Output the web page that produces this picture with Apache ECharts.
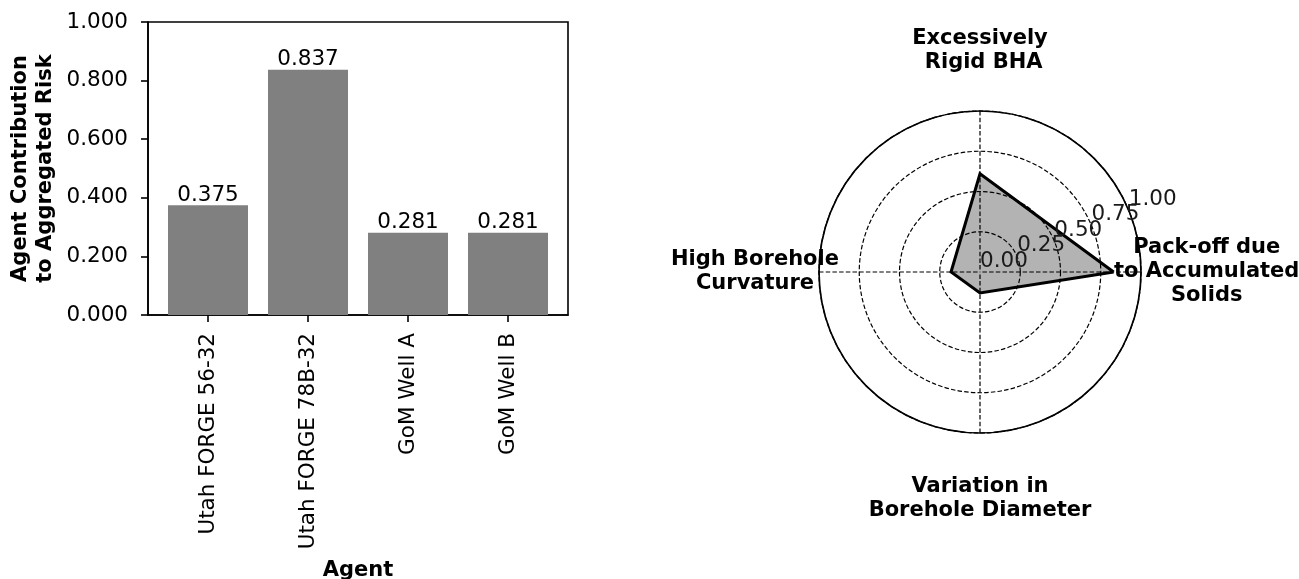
<!DOCTYPE html>
<html>
<head>
<meta charset="utf-8">
<script src="https://cdn.jsdelivr.net/npm/echarts@6/dist/echarts.min.js"></script>
<style>
  html, body { margin: 0; padding: 0; background: #ffffff; }
  #chart { width: 1299px; height: 579px; }
</style>
</head>
<body>
<div id="chart"></div>
<script>
// Bar panel: each agent's share of the aggregated risk
const agents = ['Utah FORGE 56-32', 'Utah FORGE 78B-32', 'GoM Well A', 'GoM Well B'];
const contributions = [0.375, 0.837, 0.281, 0.281];
const contributionTicks = [0, 0.2, 0.4, 0.6, 0.8, 1.0];

// Polar panel: risk factor scores, counter-clockwise from the east
const riskFactors = [
  'Pack-off due\nto Accumulated\nSolids',
  'Excessively\n Rigid BHA',
  'High Borehole\nCurvature',
  'Variation in\nBorehole Diameter'
];
const riskScores = [0.83, 0.61, 0.18, 0.13];
const radialTicks = [0, 0.25, 0.5, 0.75, 1.0];

const FONT = 'DejaVu Sans';
const BLACK = '#000000';
const DASH = [4.5, 2.2];
const TICK_FONT = 21.5;
const BOLD_FONT = 21;

const agentPositions = agents.map((_, i) => i);
const barData = contributions.map((v, i) => [i, v]);

// one factor every quarter turn; the first point is repeated to close the outline
const factorStep = 360 / riskFactors.length;
const scoreLoop = riskScores.map((v, i) => [v, i * factorStep]).concat([[riskScores[0], 360]]);

// radial tick labels split in two alternating sets so none of them collide
const radialLabelsA = radialTicks.filter((_, i) => i % 2 === 0);
const radialLabelsB = radialTicks.filter((_, i) => i % 2 === 1);

const centerPolar = [980, 272];
const polarRadius = 161;

// factor names: each line centred; extra spacer line keeps top/bottom names off the ring
function factorLabel(angle) {
  const i = Math.round(angle / factorStep);
  if (i >= riskFactors.length) return '';
  const style = i === 2 ? 'w' : 'c';
  const lines = riskFactors[i].split('\n').map(s => '{' + style + '|' + s + '}');
  if (i === 1) lines.push('{gt| }');
  if (i === 3) lines.unshift('{gb| }');
  return lines.join('\n');
}

const nameStyle = { align: 'center', fontWeight: 'bold', fontSize: BOLD_FONT, lineHeight: 24, color: BLACK, fontFamily: FONT };

function radialLabelAxis(polarIndex, values) {
  return {
    polarIndex: polarIndex,
    type: 'value',
    min: radialTicks[0], max: radialTicks[radialTicks.length - 1], interval: 0.25,
    z: 5,
    axisLine: { show: false },
    axisTick: { show: false },
    splitLine: { show: false },
    axisLabel: {
      show: true, customValues: values, showMinLabel: true, showMaxLabel: true,
      formatter: v => v.toFixed(2),
      align: 'left', verticalAlign: 'bottom', margin: 0,
      fontSize: TICK_FONT, color: '#1a1a1a', fontFamily: FONT
    }
  };
}

const chart = echarts.init(document.getElementById('chart'), null, { renderer: 'canvas' });

chart.setOption({
  backgroundColor: '#ffffff',
  animation: false,
  textStyle: { fontFamily: FONT },
  grid: {
    left: 148, top: 22, width: 420, height: 293,
    containLabel: false, outerBoundsMode: 'none',
    show: true, borderColor: BLACK, borderWidth: 1.6, backgroundColor: 'transparent'
  },
  xAxis: {
    type: 'value',
    min: -0.6, max: 3.6,
    splitLine: { show: false },
    axisLine: { show: true, onZero: false, lineStyle: { color: BLACK, width: 1.6 } },
    axisTick: { show: true, customValues: agentPositions, length: 7, lineStyle: { color: BLACK, width: 1.6 } },
    axisLabel: {
      customValues: agentPositions,
      formatter: v => agents[Math.round(v)],
      rotate: 90, margin: 18,
      fontSize: TICK_FONT, color: BLACK, fontFamily: FONT
    },
    name: 'Agent', nameLocation: 'middle', nameGap: 245,
    nameTextStyle: { fontWeight: 'bold', fontSize: BOLD_FONT, color: BLACK, fontFamily: FONT }
  },
  yAxis: {
    type: 'value',
    min: contributionTicks[0], max: contributionTicks[contributionTicks.length - 1], interval: 0.2,
    splitLine: { show: false },
    axisLine: { show: true, onZero: false, lineStyle: { color: BLACK, width: 1.6 } },
    axisTick: { show: true, length: 7, lineStyle: { color: BLACK, width: 1.6 } },
    axisLabel: {
      formatter: v => v.toFixed(3), margin: 20,
      fontSize: TICK_FONT, color: BLACK, fontFamily: FONT
    },
    name: 'Agent Contribution\nto Aggregated Risk',
    nameLocation: 'middle', nameGap: 90, nameRotate: 90,
    nameTextStyle: { fontWeight: 'bold', fontSize: BOLD_FONT, lineHeight: 25, color: BLACK, fontFamily: FONT, align: 'center' }
  },
  polar: [
    { center: centerPolar, radius: polarRadius },
    { center: centerPolar, radius: polarRadius },
    { center: centerPolar, radius: polarRadius }
  ],
  angleAxis: [
    {
      polarIndex: 0,
      type: 'value',
      min: 0, max: 360, interval: factorStep,
      startAngle: 0,
      clockwise: false,
      z: 2,
      axisLine: { show: true, lineStyle: { color: BLACK, width: 1.7, type: 'solid' } },
      axisTick: { show: false },
      splitLine: { show: true, lineStyle: { color: BLACK, width: 1.2, type: DASH } },
      axisLabel: {
        show: true, margin: -27,
        formatter: factorLabel,
        rich: {
          c: nameStyle,
          w: Object.assign({}, nameStyle, { width: 182 }),
          gt: { fontSize: 2, lineHeight: 63 },
          gb: { fontSize: 2, lineHeight: 69 }
        }
      }
    },
    { polarIndex: 1, type: 'value', min: 0, max: 360, startAngle: 22.5, clockwise: false, show: false },
    { polarIndex: 2, type: 'value', min: 0, max: 360, startAngle: 22.5, clockwise: false, show: false }
  ],
  radiusAxis: [
    {
      polarIndex: 0,
      type: 'value',
      min: radialTicks[0], max: radialTicks[radialTicks.length - 1], interval: 0.25,
      z: 2,
      axisLine: { show: false },
      axisTick: { show: false },
      axisLabel: { show: false },
      splitLine: { show: true, lineStyle: { color: BLACK, width: 1.2, type: DASH } }
    },
    radialLabelAxis(1, radialLabelsA),
    radialLabelAxis(2, radialLabelsB)
  ],
  series: [
    {
      type: 'bar',
      xAxisIndex: 0, yAxisIndex: 0,
      data: barData,
      barWidth: 80,
      itemStyle: { color: '#808080' },
      label: {
        show: true, position: 'top', distance: -1,
        formatter: p => p.value[1].toFixed(3),
        fontSize: TICK_FONT, color: BLACK, fontFamily: FONT
      }
    },
    {
      type: 'line',
      coordinateSystem: 'polar', polarIndex: 0,
      data: scoreLoop,
      z: 1,
      symbol: 'none',
      lineStyle: { width: 0, opacity: 0 },
      areaStyle: { color: '#b3b3b3', opacity: 1 }
    },
    {
      type: 'line',
      coordinateSystem: 'polar', polarIndex: 0,
      data: scoreLoop,
      z: 3,
      symbol: 'none',
      lineStyle: { width: 3, color: BLACK, join: 'miter' }
    }
  ]
});
</script>
</body>
</html>
